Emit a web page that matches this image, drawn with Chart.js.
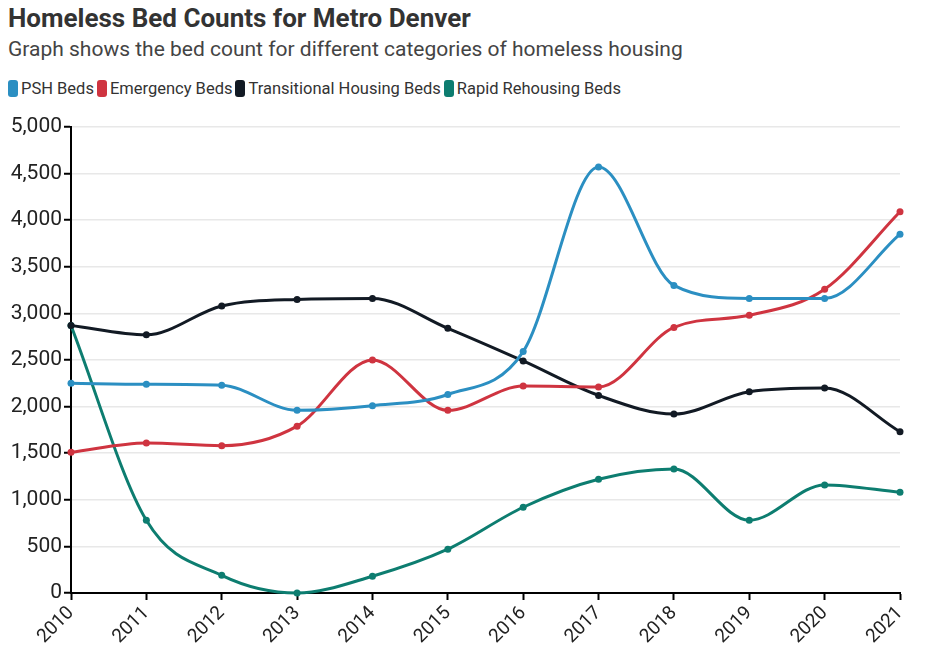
<!DOCTYPE html>
<html>
<head>
<meta charset="utf-8">
<script src="https://cdn.jsdelivr.net/npm/chart.js@4/dist/chart.umd.min.js"></script>
<style>
  body { margin: 0; background: #fff; font-family: Roboto, "Noto Sans", sans-serif; }
  #titulo { position: absolute; left: 8px; top: 3px; font-size: 26px; font-weight: bold; color: #333; }
  #subtitulo { position: absolute; left: 8px; top: 37px; font-size: 21px; color: #444; }
  #leyenda { position: absolute; left: 8px; top: 79px; font-size: 16.5px; color: #333; display: flex; }
  #leyenda span.item { display: flex; align-items: center; margin-right: 3px; }
  #leyenda span.caja { display: inline-block; width: 10px; height: 17px; border-radius: 3px; margin-right: 3px; }
  #contenedor { position: absolute; left: 0; top: 110px; width: 926px; height: 552px; }
</style>
</head>
<body>
<div id="titulo">Homeless Bed Counts for Metro Denver</div>
<div id="subtitulo">Graph shows the bed count for different categories of homeless housing</div>
<div id="leyenda"></div>
<div id="contenedor"><canvas id="grafico" width="926" height="552"></canvas></div>
<script>
const anios = ["2010","2011","2012","2013","2014","2015","2016","2017","2018","2019","2020","2021"];
const camasPSH = [2250, 2240, 2230, 1960, 2010, 2130, 2590, 4570, 3300, 3160, 3160, 3850];
const camasEmergencia = [1510, 1610, 1580, 1790, 2500, 1960, 2220, 2210, 2850, 2980, 3260, 4090];
const camasTransicion = [2870, 2770, 3080, 3150, 3160, 2840, 2490, 2120, 1920, 2160, 2200, 1730];
const camasRapidas = [2870, 780, 190, 0, 180, 470, 920, 1220, 1330, 780, 1160, 1080];
const ticksY = [0, 500, 1000, 1500, 2000, 2500, 3000, 3500, 4000, 4500, 5000];

const series = [
  { label: "PSH Beds", data: camasPSH, color: "#2b8fc2" },
  { label: "Emergency Beds", data: camasEmergencia, color: "#cf3440" },
  { label: "Transitional Housing Beds", data: camasTransicion, color: "#121a24" },
  { label: "Rapid Rehousing Beds", data: camasRapidas, color: "#0d7d70" }
];

document.getElementById("leyenda").innerHTML = series.map(s =>
  `<span class="item"><span class="caja" style="background:${s.color}"></span>${s.label}</span>`).join("");

const ctx = document.getElementById("grafico").getContext("2d");
new Chart(ctx, {
  type: "line",
  data: {
    labels: anios,
    datasets: series.map(s => ({
      label: s.label,
      data: s.data,
      borderColor: s.color,
      backgroundColor: s.color,
      borderWidth: 3,
      pointRadius: 3.5,
      pointBorderWidth: 0,
      cubicInterpolationMode: "monotone",
      clip: false
    }))
  },
  options: {
    responsive: false,
    animation: false,
    layout: { padding: { top: 17, right: 26, left: 0, bottom: 0 } },
    plugins: { legend: { display: false }, title: { display: false }, tooltip: { enabled: false } },
    scales: {
      x: {
        offset: false,
        grid: { drawOnChartArea: false, tickLength: 7, tickColor: "#000", tickWidth: 2 },
        border: { color: "#000", width: 2 },
        ticks: {
          color: "#222", font: { family: "Roboto", size: 19 },
          maxRotation: 45, minRotation: 45, autoSkip: false, padding: 2
        },
        afterFit(scale) { scale.height = 69; }
      },
      y: {
        min: 0, max: 5000,
        afterBuildTicks(scale) { scale.ticks = ticksY.map(v => ({ value: v })); },
        grid: { color: "#e8e8e8", lineWidth: 1.5, tickLength: 7, tickColor: "#000", tickWidth: 2 },
        border: { color: "#000", width: 2 },
        ticks: {
          color: "#222", font: { family: "Roboto", size: 21 }, padding: 2,
          callback: v => v.toLocaleString("en-US")
        },
        afterFit(scale) { scale.width = 71; }
      }
    }
  }
});
</script>
</body>
</html>
